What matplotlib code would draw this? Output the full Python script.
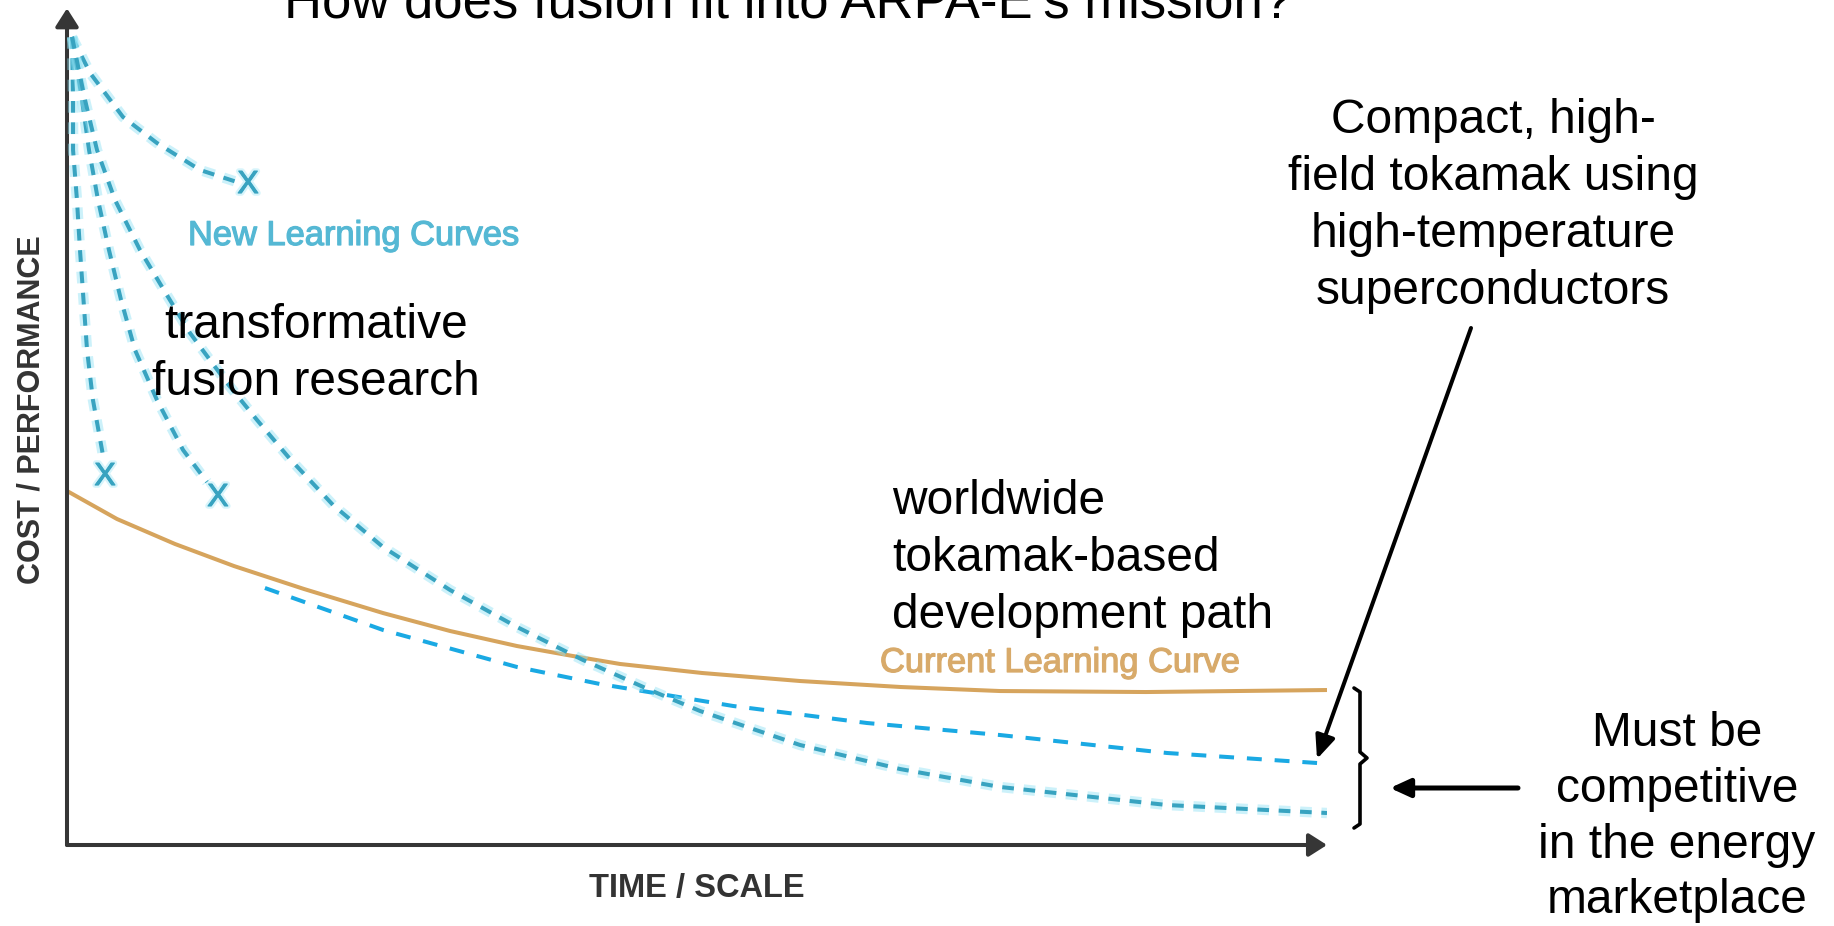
import matplotlib
matplotlib.use("Agg")
import matplotlib.pyplot as plt
from matplotlib import patheffects as pe

# ---- data (time/scale 0-100 on x, cost/performance 0-100 on y) ----
# established learning curve
current_x = [0, 3.97, 8.57, 13.25, 18.81, 25.08, 30.40, 35.71, 40.16, 43.89, 50.40,
             58.17, 66.19, 74.05, 85.63, 100.0]
current_y = [42.40, 39.04, 36.05, 33.41, 30.66, 27.78, 25.63, 23.83, 22.63, 21.68, 20.60,
             19.64, 18.92, 18.44, 18.32, 18.56]

# worldwide tokamak-based development path
tokamak_x = [15.71, 25.08, 35.71, 42.30, 52.86, 63.49, 74.05, 87.30, 99.21]
tokamak_y = [30.78, 25.75, 21.32, 19.28, 16.65, 14.61, 13.17, 11.02, 9.82]

# new learning curves (three stop early, one keeps going)
new_a_x = [0.40, 1.83, 4.44, 7.14, 10.56, 13.73]
new_a_y = [96.77, 92.46, 87.19, 84.07, 80.84, 79.28]
new_b_x = [0.40, 0.48, 0.48, 0.79, 1.03, 1.59, 2.06, 2.78, 2.94]
new_b_y = [96.77, 89.22, 83.23, 77.25, 71.26, 59.28, 53.29, 47.31, 45.87]
new_c_x = [0.40, 1.19, 1.75, 2.46, 3.33, 4.29, 5.40, 7.14, 9.21, 11.11]
new_c_y = [96.77, 89.22, 83.23, 77.25, 71.26, 65.27, 59.28, 53.29, 47.31, 43.47]
new_d_x = [0.40, 1.43, 2.38, 3.81, 5.79, 7.78, 9.76, 12.70, 15.08, 17.70, 21.11,
           25.08, 30.40, 35.71, 40.95, 46.27, 50.24, 58.17, 66.11, 74.05, 87.30, 100.0]
new_d_y = [96.77, 89.22, 83.23, 77.25, 71.26, 66.23, 61.32, 55.33, 50.90, 46.23, 40.72,
           35.69, 30.54, 26.11, 22.16, 18.56, 16.05, 11.98, 9.10, 6.95, 4.79, 3.83]

# where the short curves end
stop_x = [14.37, 3.02, 11.98]
stop_y = [79.04, 44.07, 41.56]

W, H = 1834, 926
FONT = "Liberation Sans"
TEAL = "#38a3c0"
GLOW = "#8fe2f4"
ORANGE = "#d6a45d"
BLUE = "#1aa9e3"
AXIS = "#363636"

fig = plt.figure(figsize=(W / 100, H / 100), dpi=100)
fig.patch.set_facecolor("white")

# plotting area: origin at the corner of the two axis arrows
x0, x1 = 67, 1327
y0, y1 = 845, 10
ax = fig.add_axes([x0 / W, (H - y0) / H, (x1 - x0) / W, (y0 - y1) / H])
ax.set_xlim(0, 100)
ax.set_ylim(0, 100)
ax.axis("off")

glow = [pe.Stroke(linewidth=7.5, foreground=GLOW, alpha=0.45), pe.Normal()]

ax.plot(current_x, current_y, color=ORANGE, lw=2.9, solid_capstyle="butt",
        solid_joinstyle="round", zorder=3)
ax.plot(tokamak_x, tokamak_y, color=BLUE, lw=2.9, dashes=(3.7, 3.2), zorder=4)
for xs, ys in [(new_a_x, new_a_y), (new_b_x, new_b_y), (new_c_x, new_c_y), (new_d_x, new_d_y)]:
    ax.plot(xs, ys, color=TEAL, lw=2.9, dashes=(2.9, 2.4), path_effects=glow, zorder=5)
for sx, sy in zip(stop_x, stop_y):
    ax.text(sx, sy, "X", color=TEAL, fontsize=23, family=FONT, ha="center", va="center",
            path_effects=[pe.Stroke(linewidth=4, foreground=GLOW, alpha=0.35),
                          pe.Stroke(linewidth=0.8, foreground=TEAL), pe.Normal()],
            zorder=6)

# axis arrows
arrow_kw = dict(arrowstyle="-|>,head_length=1.1,head_width=0.7", mutation_scale=10,
                lw=2.9, color=AXIS, shrinkA=0, shrinkB=0)
ax.annotate("", xy=(100, 0), xytext=(0, 0), arrowprops=arrow_kw, annotation_clip=False)
ax.annotate("", xy=(0, 100.2), xytext=(0, 0), arrowprops=arrow_kw, annotation_clip=False)

# overlay in pixel units for labels and callouts
ov = fig.add_axes([0, 0, 1, 1], zorder=10)
ov.set_xlim(0, W)
ov.set_ylim(H, 0)
ov.axis("off")
ov.patch.set_alpha(0)

def lines(x, baselines, texts, ha, size=34.5, color="black", **kw):
    for b, t in zip(baselines, texts):
        ov.text(x, b, t, ha=ha, va="baseline", fontsize=size, color=color, family=FONT, **kw)

lines(284, [18], ["How does fusion fit into ARPA-E\u2019s mission?"], "left", size=37.9)

ov.text(32, 410, "COST / PERFORMANCE", rotation=90, ha="center", va="center",
        fontsize=22, fontweight="bold", color="#333333", family=FONT)
ov.text(697, 888, "TIME / SCALE", ha="center", va="center",
        fontsize=23.5, fontweight="bold", color="#333333", family=FONT)

thick_teal = [pe.Stroke(linewidth=0.9, foreground="#55b8d4"), pe.Normal()]
thick_tan = [pe.Stroke(linewidth=0.9, foreground="#d8aa6a"), pe.Normal()]
lines(188, [245], ["New Learning Curves"], "left", size=24.8, color="#55b8d4",
      path_effects=thick_teal)
lines(880, [672], ["Current Learning Curve"], "left", size=24.8, color="#d8aa6a",
      path_effects=thick_tan)

lines(316, [338, 395], ["transformative", "fusion research"], "center")
lines(892, [514, 571, 628], ["worldwide", "tokamak-based", "development path"], "left")
lines(1493, [133, 190, 247, 304],
      ["Compact, high-", "field tokamak using", "high-temperature", "superconductors"], "center")
lines(1677, [746, 802, 858, 913],
      ["Must be", "competitive", "in the energy", "marketplace"], "center")

# callout arrows and bracket
ov.annotate("", xy=(1317, 759), xytext=(1471, 328),
            arrowprops=dict(arrowstyle="-|>,head_length=1.4,head_width=0.6", mutation_scale=10,
                            lw=2.9, color="black", shrinkA=0, shrinkB=0))
ov.annotate("", xy=(1390, 788), xytext=(1518, 788),
            arrowprops=dict(arrowstyle="-|>,head_length=1.2,head_width=0.55", mutation_scale=10,
                            lw=3.6, color="black", shrinkA=0, shrinkB=0))
ov.plot([1354, 1360, 1360, 1367, 1360, 1360, 1354],
        [688, 692, 752, 758, 764, 824, 828],
        color="black", lw=2.6, solid_joinstyle="round", solid_capstyle="round")

fig.savefig("out.png", dpi=100, facecolor="white")
